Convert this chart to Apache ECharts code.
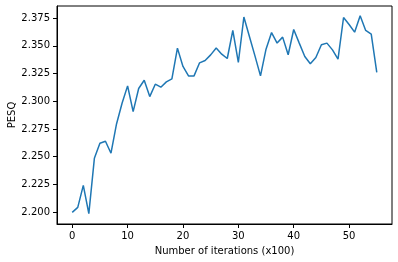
<!DOCTYPE html>
<html>
<head>
<meta charset="utf-8">
<script src="https://cdn.jsdelivr.net/npm/echarts@6/dist/echarts.min.js"></script>
<style>html,body{margin:0;padding:0;background:#fff}#c{width:398px;height:262px}</style>
</head>
<body>
<div id="c"></div>
<script>
var iterations = [0,1,2,3,4,5,6,7,8,9,10,11,12,13,14,15,16,17,18,19,20,21,22,23,24,25,26,27,28,29,30,31,32,33,34,35,36,37,38,39,40,41,42,43,44,45,46,47,48,49,50,51,52,53,54,55];
var pesq = [2.1997,2.2042,2.2241,2.1985,2.2485,2.2621,2.2639,2.2531,2.2795,2.2982,
            2.3139,2.2907,2.3115,2.3190,2.3042,2.3154,2.3127,2.3175,2.3202,2.3480,
            2.3314,2.3229,2.3229,2.3347,2.3368,2.3419,2.3480,2.3425,2.3386,2.3639,
            2.3350,2.3760,2.3585,2.3410,2.3229,2.3470,2.3620,2.3525,2.3579,2.3420,
            2.3648,2.3525,2.3404,2.3338,2.3395,2.3510,2.3525,2.3464,2.3380,2.3756,
            2.3693,2.3624,2.3771,2.3639,2.3606,2.3260];
var xTicks = [0,10,20,30,40,50];
var yTicks = [2.200,2.225,2.250,2.275,2.300,2.325,2.350,2.375];

var chart = echarts.init(document.getElementById('c'), null, {renderer:'canvas'});
var txt = {color:'#000', fontFamily:'DejaVu Sans', fontSize:10};
chart.setOption({
  animation:false,
  grid:{left:57, right:6, top:6, bottom:38, containLabel:false, outerBoundsMode:'none',
        show:true, borderColor:'#000', borderWidth:1, backgroundColor:'transparent'},
  xAxis:{
    type:'value', min:-2.75, max:57.75,
    name:'Number of iterations (x100)', nameLocation:'middle', nameGap:22, nameMoveOverlap:false,
    nameTextStyle:txt,
    axisLine:{show:true, onZero:false, lineStyle:{color:'#000', width:1}},
    axisTick:{show:true, length:4, lineStyle:{color:'#000'}, customValues:xTicks},
    axisLabel:Object.assign({margin:7, customValues:xTicks, formatter:function(v){return String(Math.round(v));}}, txt),
    splitLine:{show:false}
  },
  yAxis:{
    type:'value', min:2.1892, max:2.386,
    name:'PESQ', nameLocation:'middle', nameGap:40, nameMoveOverlap:false,
    nameTextStyle:txt,
    axisLine:{show:true, onZero:false, lineStyle:{color:'#000', width:1}},
    axisTick:{show:true, length:4, lineStyle:{color:'#000'}, customValues:yTicks},
    axisLabel:Object.assign({margin:7, customValues:yTicks, formatter:function(v){return v.toFixed(3);}}, txt),
    splitLine:{show:false}
  },
  series:[{
    type:'line',
    data:iterations.map(function(x,i){return [x,pesq[i]];}),
    showSymbol:false,
    lineStyle:{color:'#1f77b4', width:1.5},
    itemStyle:{color:'#1f77b4'}
  }]
});
</script>
</body>
</html>
